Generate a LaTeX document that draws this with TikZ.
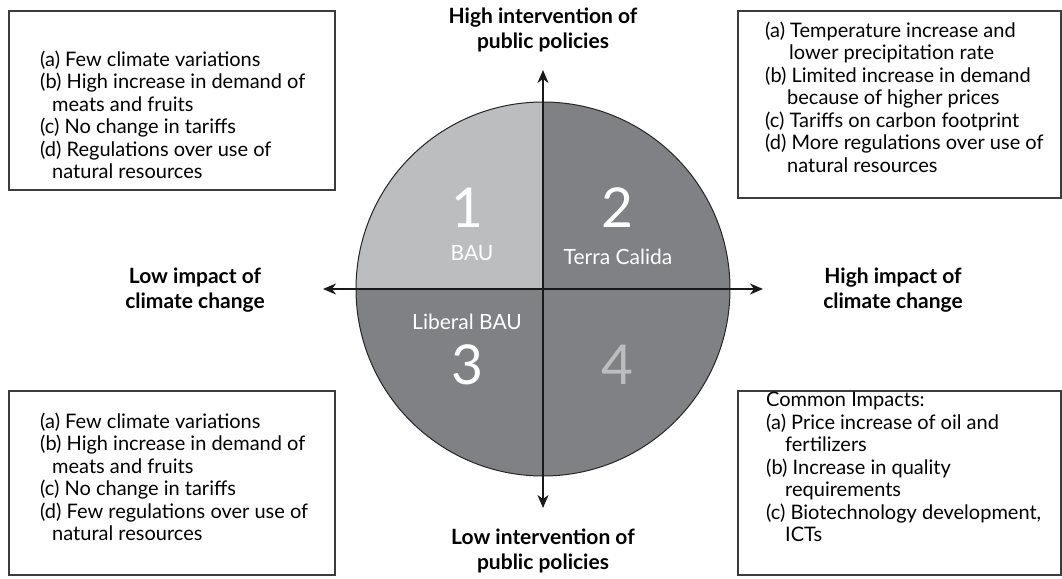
\documentclass[tikz,border=0pt]{standalone}
\usepackage{fontspec}
\setmainfont{Lato}
\usetikzlibrary{arrows.meta}

\definecolor{lightq}{RGB}{188,189,191}
\definecolor{darkq}{RGB}{128,129,132}
\definecolor{boxline}{RGB}{60,60,60}

\tikzset{
    axis/.style={{Stealth[length=13pt, width=11pt, inset=4pt]}-{Stealth[length=13pt, width=11pt, inset=4pt]}, line width=1.3pt, black!90},
    infobox/.style={draw=boxline, line width=1.4pt, inner sep=0pt},
    listtext/.style={anchor=west, align=left, inner sep=0pt, font=\fontsize{20}{22.5}\selectfont},
    axislabel/.style={align=center, inner sep=0pt, font=\fontsize{21}{24.5}\selectfont\bfseries},
    bignum/.style={inner sep=0pt, text=white, font=\fontsize{55}{60}\selectfont},
    scenname/.style={inner sep=0pt, text=white, font=\fontsize{21}{24}\selectfont}
}

\begin{document}
\begin{tikzpicture}[x=1pt, y=-1pt]
    \useasboundingbox (0, 0) rectangle (1062, 578);

    % the circle and its quarters
    \coordinate (o) at (543, 289);
    \fill [darkq] (o) circle [radius=187pt];
    \fill [lightq] (o) -- ++(-187pt, 0) arc [start angle=180, end angle=90, radius=187pt] -- cycle;
    \draw [line width=1pt, black!85] (o) circle [radius=187pt];

    \coordinate (top) at (543, 70);
    \coordinate (bot) at (543, 508);
    \coordinate (lft) at (323, 289);
    \coordinate (rgt) at (763, 289);
    \draw [axis] (bot) -- (top);
    \draw [axis] (lft) -- (rgt);

    \node [bignum] (num1) at (467, 208) {1};
    \node [scenname] (name1) at (472, 253) {BAU};
    \node [bignum] (num2) at (617, 208) {2};
    \node [scenname] (name2) at (618, 257) {Terra Calida};
    \node [scenname] (name3) at (467, 322) {Liberal BAU};
    \node [bignum] (num3) at (467, 365) {3};
    \node [bignum, text=lightq] (num4) at (617, 365) {4};

    % axis labels
    \node [axislabel] (lbltop) at (543, 30) {High intervention of\\public policies};
    \node [axislabel] (lblbot) at (543, 551) {Low intervention of\\public policies};
    \node [axislabel] (lbllft) at (195, 290) {Low impact of\\climate change};
    \node [axislabel] (lblrgt) at (893, 290) {High impact of\\climate change};

    % boxes
    \node [infobox, minimum width=326pt, minimum height=179pt] (boxtl) at (172, 100.5) {};
    \node [infobox, minimum width=323pt, minimum height=187pt] (boxtr) at (899.5, 104.5) {};
    \node [infobox, minimum width=326pt, minimum height=184pt] (boxbl) at (172, 483) {};
    \node [infobox, minimum width=323pt, minimum height=184pt] (boxbr) at (899.5, 483) {};

    \node [listtext] (txttl) at (40, 115) {(a) Few climate variations\\(b) High increase in demand of\\\hspace*{12pt}meats and fruits\\(c) No change in tariffs\\(d) Regulations over use of\\\hspace*{12pt}natural resources};
    \node [listtext] (txttr) at (765, 97) {(a) Temperature increase and\\\hspace*{24pt}lower precipitation rate\\(b) Limited increase in demand\\\hspace*{22pt}because of higher prices\\(c) Tariffs on carbon footprint\\(d) More regulations over use of\\\hspace*{22pt}natural resources};
    \node [listtext] (txtbl) at (40, 477) {(a) Few climate variations\\(b) High increase in demand of\\\hspace*{12pt}meats and fruits\\(c) No change in tariffs\\(d) Few regulations over use of\\\hspace*{12pt}natural resources};
    \node [listtext] (txtbr) at (766, 467) {Common Impacts:\\(a) Price increase of oil and\\\hspace*{19pt}fertilizers\\(b) Increase in quality\\\hspace*{19pt}requirements\\(c) Biotechnology development,\\\hspace*{19pt}ICTs};

\end{tikzpicture}
\end{document}
